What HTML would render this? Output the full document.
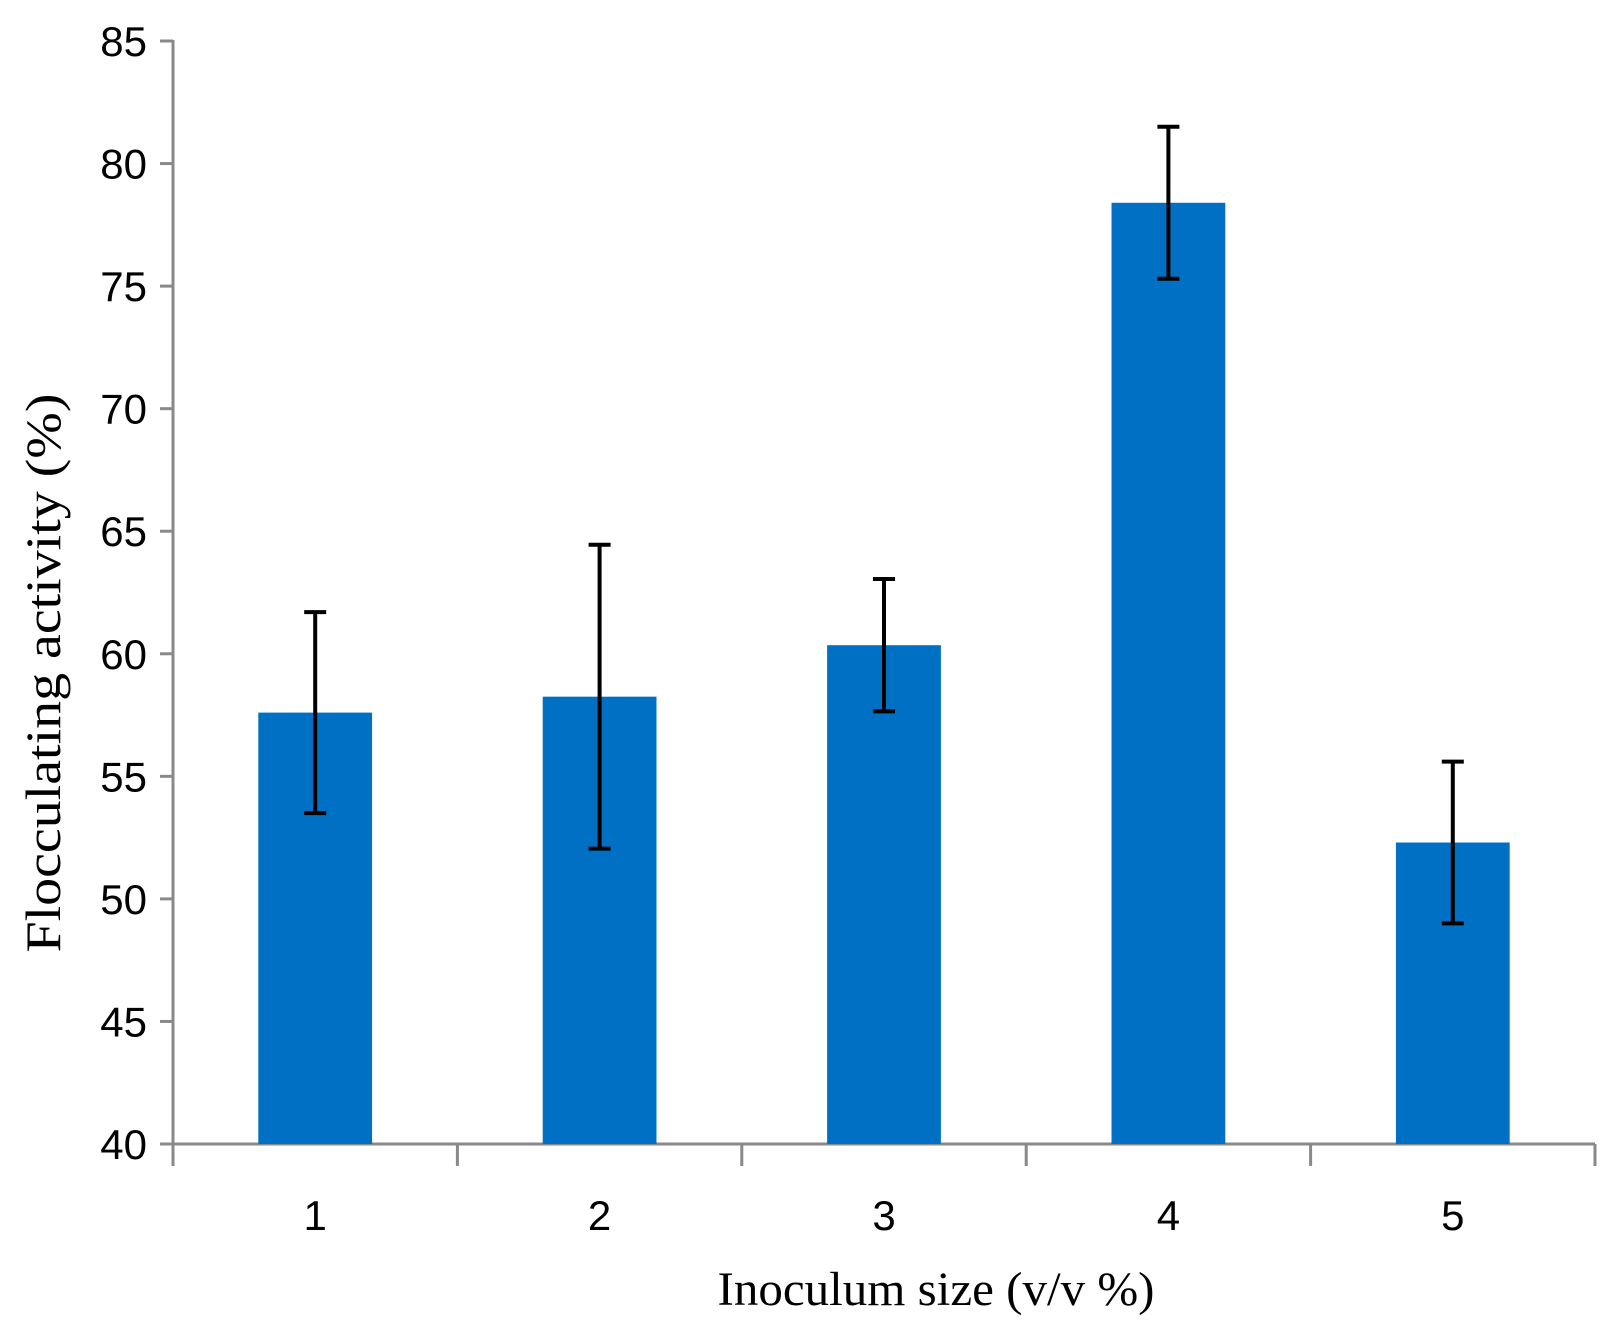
<!DOCTYPE html>
<html><head><meta charset="utf-8"><style>
html,body{margin:0;padding:0;background:#fff;}
svg{display:block;}
</style></head><body>
<svg id="chart" width="1614" height="1327" xmlns="http://www.w3.org/2000/svg">
<g id="axes"></g>
<g id="bars"></g>
<g id="errs"></g>
<text transform="translate(60,673) rotate(-90)" text-anchor="middle" font-family="Liberation Serif, serif" font-size="50" textLength="559" lengthAdjust="spacingAndGlyphs">Flocculating activity (%)</text>
<text x="936" y="1305" text-anchor="middle" font-family="Liberation Serif, serif" font-size="48" textLength="437" lengthAdjust="spacingAndGlyphs">Inoculum size (v/v %)</text>
</svg>
<script>
const categories = ['1','2','3','4','5'];
const values = [57.6, 58.25, 60.35, 78.4, 52.3];
const errors = [4.1, 6.2, 2.7, 3.1, 3.3];
const yTicks = [40,45,50,55,60,65,70,75,80,85];

const NS='http://www.w3.org/2000/svg';
const X0=173, X1=1595, Y40=1144, Y85=41, ymin=40, ymax=85;
const y = v => Y40 - (v-ymin)/(ymax-ymin)*(Y40-Y85);
const bw=(X1-X0)/categories.length;
const xc = i => X0 + bw*(i+0.5);
function mk(tag, attrs, parent){const e=document.createElementNS(NS,tag);for(const k in attrs)e.setAttribute(k,attrs[k]);parent.appendChild(e);return e;}
const axes=document.getElementById('axes'), bars=document.getElementById('bars'), errs=document.getElementById('errs');
let l=mk('line',{x1:X0,y1:Y85-1,x2:X0,y2:Y40+22,stroke:'#898989','stroke-width':3},axes);


l=mk('line',{x1:X0-13,y1:Y40,x2:X1,y2:Y40,stroke:'#898989','stroke-width':3},axes);


yTicks.forEach(t=>{
  const tk=mk('line',{x1:X0-13,y1:y(t),x2:X0,y2:y(t),stroke:'#898989','stroke-width':3},axes);
  
  
  const tx=mk('text',{x:X0-26,y:y(t)+15,'text-anchor':'end','font-family':'Liberation Sans, sans-serif','font-size':42},axes);
  tx.textContent=t;
  
  
});
for(let i=0;i<=categories.length;i++){
  const tk=mk('line',{x1:X0+bw*i,y1:Y40,x2:X0+bw*i,y2:Y40+22,stroke:'#898989','stroke-width':3},axes);
  
  
}
categories.forEach((c,i)=>{
  const tx=mk('text',{x:xc(i),y:Y40+86,'text-anchor':'middle','font-family':'Liberation Sans, sans-serif','font-size':42},axes);
  tx.textContent=c;
  
  
  const w=bw*0.4;
  const r=mk('rect',{x:xc(i)-w/2,y:y(values[i]),width:w,height:Y40-y(values[i]),fill:'#0070c4'},bars);
  
  
  const hi=y(values[i]+errors[i]), lo=y(values[i]-errors[i]);
  const g=mk('g',{stroke:'#000','stroke-width':4},errs);
  
  
  mk('line',{x1:xc(i),y1:hi,x2:xc(i),y2:lo},g);
  mk('line',{x1:xc(i)-11,y1:hi,x2:xc(i)+11,y2:hi},g);
  mk('line',{x1:xc(i)-11,y1:lo,x2:xc(i)+11,y2:lo},g);
});
</script>
</body></html>
